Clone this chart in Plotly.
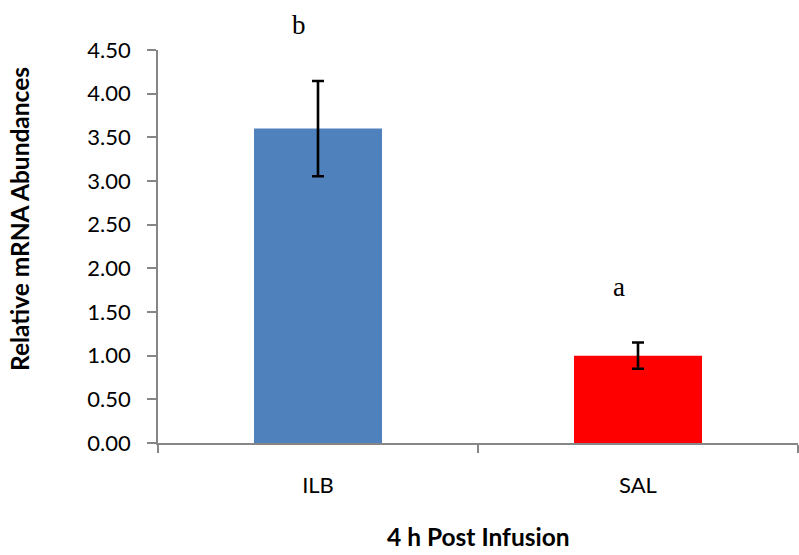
import plotly.graph_objects as go

# Relative mRNA abundance at 4 h post infusion
treatments = ["ILB", "SAL"]
abundance = [3.60, 1.00]
sem = [0.545, 0.15]
bar_colors = ["#4F81BD", "#FF0000"]
sig_letters = ["b", "a"]
y_ticks = [0.0, 0.5, 1.0, 1.5, 2.0, 2.5, 3.0, 3.5, 4.0, 4.5]

axis_grey = "#868686"
sans = "Lato"

fig = go.Figure()
fig.add_trace(go.Bar(
    x=treatments,
    y=abundance,
    marker=dict(color=bar_colors, line=dict(width=0)),
    error_y=dict(type="data", array=sem, visible=True,
                 color="black", thickness=2.6, width=6),
    showlegend=False,
))

# significance letters above each error bar
for t, v, e, s in zip(treatments, abundance, sem, sig_letters):
    fig.add_annotation(
        x=t, y=v + e, text=s, showarrow=False,
        xshift=-19, yshift=56, yanchor="middle",
        font=dict(family="Liberation Serif", size=27, color="black"),
    )

# axis titles
fig.add_annotation(
    xref="paper", yref="paper", x=-0.2156, y=0.57,
    text="<b>Relative mRNA Abundances</b>", textangle=-90,
    showarrow=False, xanchor="center", yanchor="middle",
    font=dict(family=sans, size=24.5, color="black"),
)
fig.add_annotation(
    xref="paper", yref="paper", x=0.5, y=-0.239,
    text="<b>4 h Post Infusion</b>",
    showarrow=False, xanchor="center", yanchor="middle",
    font=dict(family=sans, size=24.5, color="black"),
)

fig.update_layout(
    width=799, height=555,
    margin=dict(l=158, r=1, t=50, b=112),
    paper_bgcolor="white", plot_bgcolor="white",
    bargap=0.6,
    font=dict(family=sans, color="black"),
)
fig.update_xaxes(
    type="category", range=[-0.5, 1.5],
    showline=True, linecolor=axis_grey, linewidth=1.5,
    ticks="outside", tickson="boundaries", ticklen=8,
    tickcolor=axis_grey, tickwidth=1.5,
    ticklabelstandoff=22,
    tickfont=dict(family=sans, size=22, color="black"),
    showgrid=False, zeroline=False,
)
fig.update_yaxes(
    range=[0, 4.5], tickvals=y_ticks,
    ticktext=[f"{v:.2f}" for v in y_ticks],
    showline=True, linecolor=axis_grey, linewidth=1.5,
    ticks="outside", ticklen=9, tickcolor=axis_grey, tickwidth=1.5,
    ticklabelstandoff=12,
    tickfont=dict(family=sans, size=22, color="black"),
    showgrid=False, zeroline=False,
)

fig.write_html("out.html")
